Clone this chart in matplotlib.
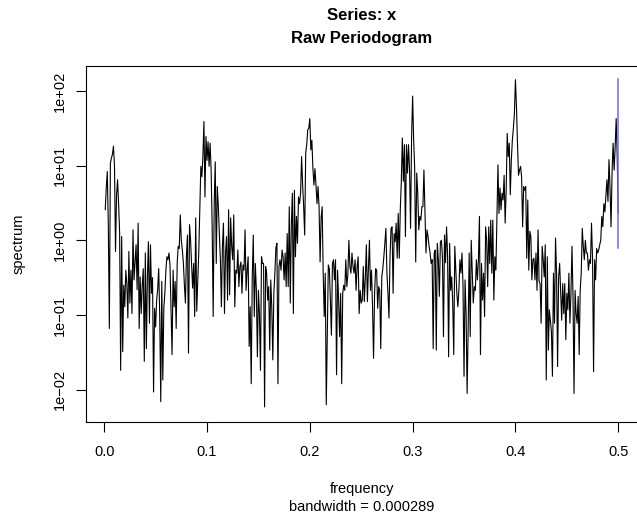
import numpy as np
import matplotlib
matplotlib.use('Agg')
import matplotlib.pyplot as plt

plt.rcParams['font.family'] = ['Liberation Sans', 'DejaVu Sans']

# raw periodogram, log10(spectrum), 500 Fourier frequencies (step 0.001)
freq_step = 0.001
band_a = [0.41, 0.70, 0.92, 0.2, -1.18, 1.03, 1.10, 1.15, 1.26, 1.0,
          -0.15, 0.6, 0.81, 0.49, 0.1, -1.74, 0.05, -1.49, -0.6, -0.89,
          -0.4, -0.58, -1.04, -0.15, -0.84, -0.4, -0.98, 0.14, -0.53, -0.3,
          -0.06, -0.66, 0.23, -1.18, -0.49, -0.98, -0.6, -0.38, -1.62, -0.17,
          -1.45, -0.5, -0.02, -1.11, -0.06, -0.71, -0.5, -2.03, -0.91, -1.16,
          -0.8, -0.66, -0.38, -1.0, -2.16, -0.55, -1.87, -0.9, -0.71, -0.4,
          -0.22, -0.26, -0.17, -0.33, -0.9, -1.53, -0.40, -0.89, -0.55, -1.18,
          -0.3, -0.08, -0.11, 0.34, 0.00, -0.13, -0.3, -0.60, -0.84, -0.2,
          0.07, -1.51]
band_b = [0.21, 0.0, -0.31, -0.64, -0.31, -1.02, 0.30, -0.95, -0.53, -0.15,
          0.4, 0.99, 0.85, 1.12, 1.59, 0.58, 1.39, 1.07, 1.32, 0.99,
          1.30, 0.94, 0.2, -1.02, 0.5, 1.05, -0.31, 0.72, 0.45, 0.09,
          -0.26, -0.89, -0.08, 0.23, -0.98, -0.17, 0.05, -0.80, 0.41, -0.73,
          0.30, -0.08, -0.26, 0.34, -0.89, -0.40, -0.44, -0.13, -0.62, -0.35,
          -0.29, -0.71, -0.33, -0.40, 0.14, -0.67, -0.4, -0.22, -1.42, -0.89,
          -1.92, -0.5, 0.07, -1.02, -0.31, -0.67, -1.56, -0.67, -1.0, -1.74,
          -0.22, -0.31, -0.31, -2.23, -0.35, -0.44, -0.8, -0.62, -1.47, -0.53,
          -0.9, -1.60, -0.71]
band_c = [-0.44, -0.1, -0.04, -1.92, -0.35, -0.26, -0.4, -0.13, -0.22, -0.53,
          -0.17, -0.62, 0.09, -0.62, 0.45, -0.84, 0.2, 0.63, -0.98, 0.67,
          -0.22, 0.32, -0.04, 0.58, 0.49, 0.63, 1.12, 0.74, 0.45, 0.07,
          1.17, 1.28, 1.48, 1.50, 1.63, 1.21, 1.34, 0.96, 0.74, 0.96,
          0.74, 0.49, 0.72, 0.45, -0.29, 0.30, 0.45, -0.44, -1.02, -0.44,
          -2.20, -1.25, -0.33, -0.38, -0.8, -1.27, -0.31, -0.26, -0.53, -0.26,
          -1.80, -0.40, -0.80, -1.29, -0.71, -1.92, -0.71, -0.60, -0.67, -0.26,
          -0.62, -0.46, 0.00, -0.35, -0.44, -0.17, -0.35, -0.44, -0.26, -0.67,
          -0.35, -0.22]
band_d = [-0.98, -0.67, -0.84, -0.80, -0.35, -0.82, -0.5, -0.06, -0.82, -0.38,
          0.00, -0.67, -0.40, -0.89, -1.58, -0.71, -0.38, -0.40, -0.91, -0.62,
          -0.67, -1.45, -0.49, -0.38, -0.22, -0.04, 0.16, -0.44, -0.71, -1.04,
          -0.22, 0.16, 0.18, -0.71, 0.09, -0.02, 0.23, -0.24, 0.36, -0.24,
          0.41, 0.79, 1.37, 0.79, 1.28, 0.05, 1.28, 0.90, 1.28, 0.94,
          0.16, 1.39, 1.93, 1.34, 0.96, -0.29, 0.90, 0.63, 0.14, 0.32,
          0.27, 0.45, 0.45, 0.94, 0.41, -0.17, 0.14, 0.05, -0.08, -0.17,
          -0.31, -0.26, -1.45, -0.17, -0.13, -1.47, -0.04, -0.26, -0.75, -0.02,
          0.00, -0.22]
band_e = [-1.29, 0.07, -0.3, 0.18, -0.2, -1.56, -0.04, -0.67, -0.49, -0.84,
          -1.53, -0.08, -0.40, -0.71, -0.89, -0.67, -0.26, -0.44, -0.17, -0.6,
          -1.82, -0.53, -0.98, -2.05, -1.20, -0.17, -1.29, 0.00, -0.44, -0.84,
          -0.62, -0.67, -0.26, -0.53, -0.26, 0.32, -1.53, -0.31, -0.80, -0.44,
          -1.02, 0.18, 0.00, -0.62, 0.18, -0.31, 0.27, -0.44, 0.27, -0.80,
          -0.22, -0.40, 0.3, 1.01, 0.36, 0.70, 0.41, 0.63, 0.54, 0.87,
          0.23, 0.67, 1.43, 1.12, 1.30, 0.61, 1.07, 1.34, 1.50, 1.70,
          2.15, 1.79, 1.30, 0.87, 0.94, 0.99, 0.85, 0.18, 0.72, 0.67,
          0.72, -0.24]
band_f = [0.54, -0.40, 0.12, 0.05, -0.53, -0.26, -0.24, -0.53, -0.17, -0.67,
          0.14, -0.55, -0.58, -1.11, -0.08, -0.26, -0.49, -0.06, -1.87, -0.22,
          -1.47, -0.93, -1.07, -1.22, -1.82, -0.44, -1.11, 0.03, -0.44, -1.69,
          -0.49, -0.31, -0.71, -1.07, -0.58, -0.98, -0.58, -1.33, -0.71, -0.93,
          -0.44, -1.11, -0.71, -0.08, -0.75, -2.05, -0.67, -0.98, -1.11, -0.75,
          -1.53, -0.67, -0.44, 0.16, -0.08, -0.26, 0.00, -0.17, -0.17, -0.40,
          -0.26, -0.31, 0.23, -0.24, -1.76, -0.26, -0.53, -0.11, -0.17, -0.13,
          -0.06, 0.00, 0.32, 0.18, 0.49, 0.38, 0.6, 0.81, 0.52, 1.08,
          0.7, 0.18, 0.92, 1.30, 0.94, 1.25, 1.63, 1.12, 0.36]

# 95% confidence bar drawn at the right edge
bandwidth = 0.000289
ci_upper = 143.0
ci_lower = 0.78
ci_mid = 3.6

x_ticks = [0.0, 0.1, 0.2, 0.3, 0.4, 0.5]
x_tick_labels = ['0.0', '0.1', '0.2', '0.3', '0.4', '0.5']
y_ticks = [1e-2, 1e-1, 1e0, 1e1, 1e2]
y_tick_labels = ['1e\u221202', '1e\u221201', '1e+00', '1e+01', '1e+02']

log_spec = np.concatenate([band_a, band_b, band_c, band_d, band_e, band_f])
spec = 10 ** log_spec
freq = freq_step * np.arange(1, len(spec) + 1)

W, H = 637, 527
fig = plt.figure(figsize=(W / 100, H / 100), dpi=100)
# box in pixels: left 85.7, right 638.8 (just off the image), top 66.3, bottom 421.7
ax = fig.add_axes([85.7 / W, 1 - 421.7 / H, (638.8 - 85.7) / W, (421.7 - 66.3) / H])

ax.plot(freq, spec, color='black', lw=0.8)

conf_x = freq[-1] - bandwidth
ax.plot([conf_x, conf_x], [ci_lower, ci_upper], color='#6a6aff', lw=1.1)
ax.plot([conf_x - bandwidth / 2, conf_x + bandwidth / 2], [ci_mid, ci_mid], color='#6a6aff', lw=1.1)

ax.set_yscale('log')
ax.set_xlim(-0.018, 0.52)
ax.set_ylim(10 ** -2.428, 10 ** 2.329)

ax.set_xticks(x_ticks)
ax.set_xticklabels(x_tick_labels)
ax.set_yticks(y_ticks)
ax.set_yticklabels(y_tick_labels, rotation=90, va='center')
ax.minorticks_off()
ax.tick_params(axis='both', direction='out', length=7, width=0.8, labelsize=10.5)
ax.tick_params(axis='x', pad=10)
ax.tick_params(axis='y', pad=6.5)
for s in ax.spines.values():
    s.set_linewidth(0.8)

fig.text(362 / W, 1 - 15 / H, 'Series: x', ha='center', va='center', fontsize=12, fontweight='bold')
fig.text(362 / W, 1 - 39 / H, 'Raw Periodogram', ha='center', va='center', fontsize=12, fontweight='bold')
fig.text(362 / W, 1 - 489 / H, 'frequency', ha='center', va='center', fontsize=10.5)
fig.text(362 / W, 1 - 507 / H, 'bandwidth = 0.000289', ha='center', va='center', fontsize=10.5)
fig.text(19 / W, 1 - 244 / H, 'spectrum', ha='center', va='center', rotation=90, fontsize=10.5)

fig.savefig('out.png', dpi=100)
